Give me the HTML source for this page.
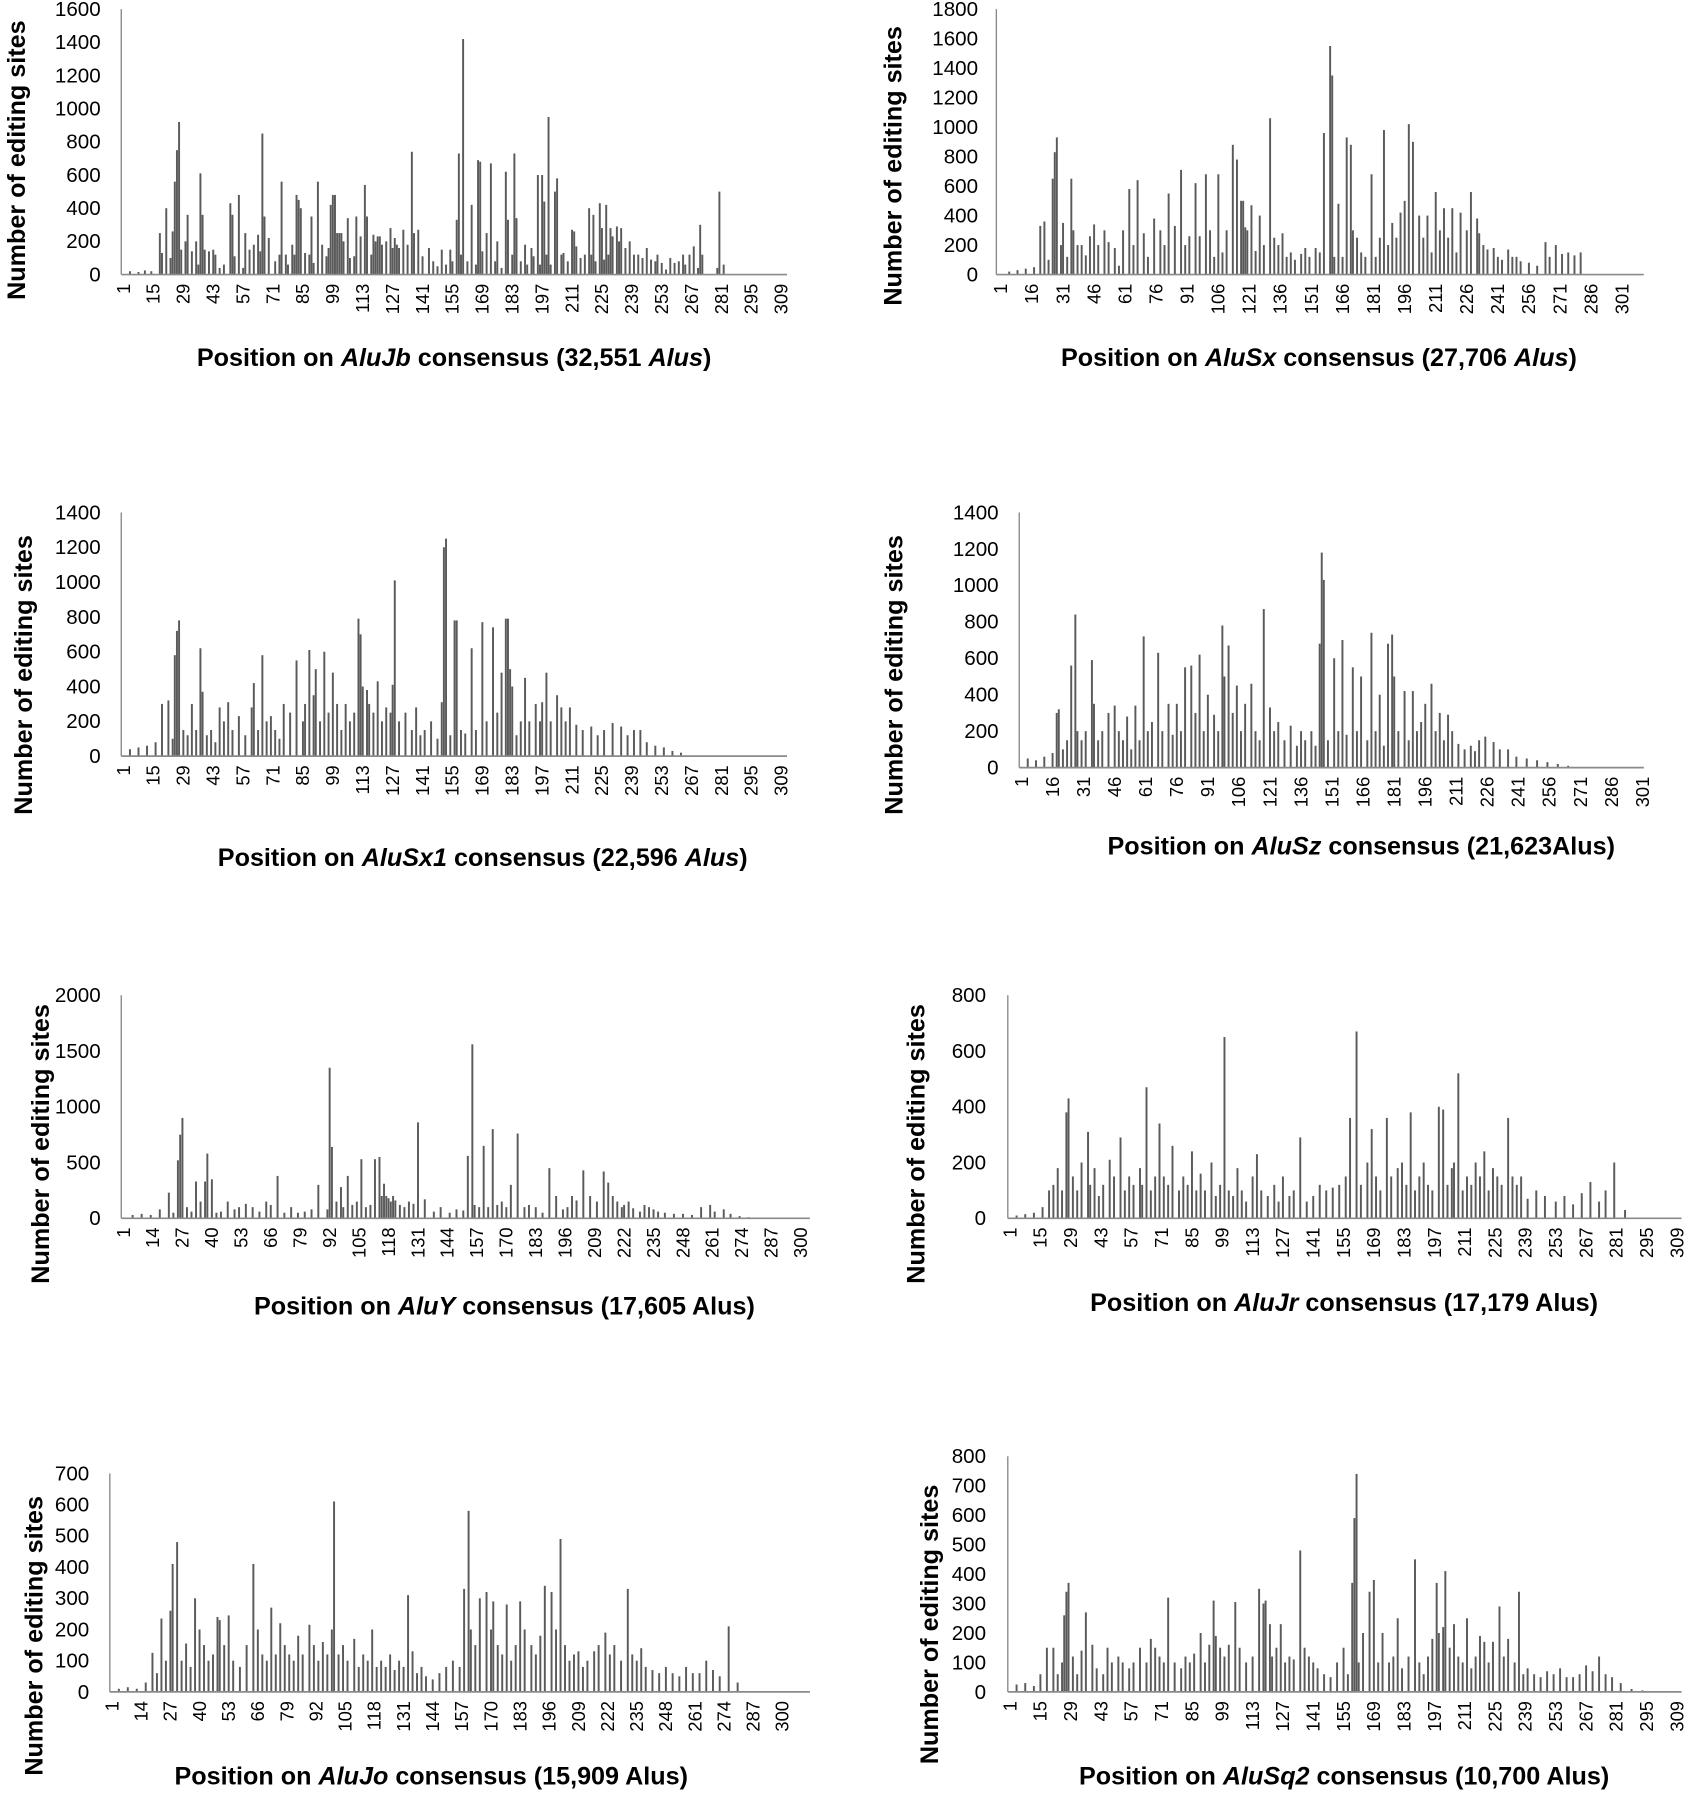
<!DOCTYPE html>
<html><head><meta charset="utf-8">
<style>
html,body{margin:0;padding:0;background:#fff;}
svg{display:block;}
text{font-family:"Liberation Sans",sans-serif;fill:#000;}
</style></head>
<body>
<svg id="fig" xmlns="http://www.w3.org/2000/svg" width="1693" height="1800" viewBox="0 0 1480 1573.5" preserveAspectRatio="none"></svg>
<script>
// ---- Data: positions and values for each panel ----
const jbPos = [4,8,11,14,18,19,21,23,24,25,26,27,28,30,31,33,35,36,37,38,39,41,43,44,46,48,51,52,53,55,57,58,60,62,64,65,66,67,69,72,74,75,77,78,80,81,82,83,84,86,88,89,90,92,94,96,97,98,99,100,101,102,103,104,106,107,109,110,112,114,115,117,118,119,120,121,122,124,126,127,128,129,130,132,134,136,137,139,141,144,146,148,150,152,154,155,157,158,159,160,162,164,166,167,168,169,171,173,175,176,178,180,181,183,184,185,187,189,190,192,193,195,196,197,198,199,200,201,203,204,206,207,209,211,212,213,215,217,219,220,221,222,224,225,226,227,228,229,230,232,233,234,236,238,240,242,244,246,248,250,251,253,255,257,259,261,263,264,266,268,270,271,272,279,280,282];
const jbVal = [20,15,25,20,250,130,400,100,260,560,750,920,150,200,360,140,200,60,610,360,150,140,150,120,40,60,430,360,110,480,40,250,150,180,240,140,850,350,220,80,120,560,120,60,180,120,480,450,400,130,120,350,70,560,180,110,160,420,480,480,250,250,250,200,340,100,110,350,230,540,350,120,240,200,230,230,180,200,280,160,220,180,160,270,180,740,250,270,110,160,80,50,150,60,150,80,330,730,120,1420,80,420,60,690,680,140,250,670,80,200,40,620,330,120,730,340,80,180,60,160,110,600,60,600,440,120,950,60,500,580,120,130,80,270,260,170,100,120,400,120,360,80,430,280,90,420,120,280,230,290,200,280,160,200,120,120,100,160,90,80,120,70,30,100,70,80,120,60,120,170,40,300,120,40,500,60,130];

const sxPos = [5,9,13,17,20,22,24,26,27,28,30,31,33,35,36,38,40,42,44,46,48,51,53,56,58,60,63,65,67,70,72,75,78,80,82,85,88,90,92,95,97,100,102,104,106,108,110,113,115,117,118,119,120,122,124,126,128,131,133,135,137,139,141,143,146,148,150,153,155,157,160,161,162,164,166,168,170,171,173,175,177,180,182,184,186,188,190,192,194,196,198,200,203,205,207,209,211,213,215,217,219,221,223,226,228,231,232,234,236,239,241,243,246,248,250,252,256,260,264,266,269,272,275,278,281];
const sxVal = [20,30,40,50,330,360,100,650,830,930,200,350,120,650,300,200,200,130,260,340,200,300,220,180,60,300,580,200,640,280,120,380,300,200,550,330,710,200,260,620,260,680,300,120,680,150,300,880,780,500,500,320,300,470,160,400,200,1060,250,200,280,120,150,100,140,180,120,180,150,960,1550,1350,120,480,120,930,880,300,250,150,120,680,120,250,980,200,350,250,420,500,1020,900,400,250,400,150,560,300,450,250,450,150,420,300,560,380,280,200,170,180,120,100,170,120,120,90,80,60,220,120,200,140,150,130,150];

const sx1Pos = [4,8,12,16,19,22,24,25,26,27,29,31,33,35,37,38,40,42,44,46,48,50,52,55,58,61,62,64,66,68,70,72,74,76,79,82,85,86,88,90,91,93,95,97,99,101,103,105,107,109,111,112,113,115,116,118,120,122,124,126,127,128,130,133,136,138,140,142,145,148,150,151,152,154,156,157,159,161,164,166,169,171,174,176,178,180,181,182,183,185,187,189,191,194,196,197,199,201,204,206,208,210,213,216,220,223,226,230,234,237,240,243,246,250,254,258,262];
const sx1Val = [40,50,60,80,300,320,100,580,720,780,150,120,300,150,620,370,120,150,80,280,200,310,150,230,120,280,420,150,580,200,230,150,100,300,250,550,200,300,610,350,500,200,600,250,480,300,150,300,200,250,790,700,400,380,300,250,430,200,280,250,410,1010,200,250,150,280,120,150,200,100,310,1200,1250,120,780,780,150,130,620,150,770,200,740,250,480,790,790,500,400,120,200,450,200,300,200,310,480,200,350,280,200,280,180,150,170,120,150,190,170,120,150,150,80,60,50,30,20];

const szPos = [4,8,12,16,18,19,21,23,25,27,28,30,32,35,36,38,40,43,46,48,50,52,54,56,58,60,62,64,67,69,72,74,76,78,80,83,85,87,89,91,94,96,98,99,101,103,105,107,109,112,114,116,118,121,123,125,128,131,134,136,138,141,143,145,146,147,149,152,154,156,158,161,163,165,168,170,172,174,176,178,180,181,183,186,188,190,192,194,196,199,201,203,205,207,209,212,215,218,220,222,225,229,232,236,240,245,250,255,260,265,270];
const szVal = [50,40,60,80,300,320,100,150,560,840,200,150,200,590,350,150,200,300,340,200,150,280,100,340,150,720,200,250,630,200,350,180,350,200,550,560,300,620,200,400,290,200,780,500,670,300,450,200,350,460,200,150,870,330,200,250,150,230,120,200,150,200,120,680,1180,1030,150,600,200,700,180,550,200,500,150,740,200,400,120,680,730,500,200,420,150,420,200,250,350,460,200,300,150,290,200,130,100,120,90,150,170,140,100,100,60,50,40,30,20,10];

const yPos = [5,9,13,17,21,23,25,26,27,29,31,33,35,37,38,40,42,44,47,50,52,55,58,61,64,66,69,72,75,78,81,84,87,91,92,93,95,97,98,100,102,104,106,108,110,112,114,115,116,117,118,119,120,121,123,125,127,129,131,134,138,141,145,148,151,153,155,156,158,160,162,164,166,168,170,172,175,178,180,183,186,189,192,195,197,199,201,204,207,210,213,215,217,219,221,222,224,226,229,231,233,235,237,240,244,248,252,256,260,262,266,269,273,277];
const yVal = [30,40,30,80,230,50,520,750,900,100,60,330,150,330,580,350,50,60,150,80,100,130,100,60,150,120,380,50,100,50,60,80,300,80,1350,640,150,280,100,380,120,150,530,100,120,530,550,200,310,200,180,150,200,160,120,100,150,130,860,170,60,100,50,80,70,560,1560,120,100,650,100,800,120,150,100,300,760,100,120,100,50,450,200,80,100,200,160,430,200,150,420,320,200,150,100,120,150,90,60,120,100,80,60,50,40,40,30,100,120,60,80,40,20,10];

const jrPos = [4,8,12,16,19,21,23,25,27,28,30,32,34,37,38,40,42,44,47,49,52,54,56,58,61,62,64,66,68,70,72,74,76,79,81,83,85,87,89,91,94,96,98,100,102,104,106,108,110,113,115,117,120,123,125,127,130,132,135,138,141,144,147,150,153,156,158,161,163,166,168,170,172,175,177,180,182,184,186,188,190,192,194,196,199,201,203,205,206,208,210,212,214,216,218,220,222,224,226,228,231,233,235,237,240,244,248,253,257,261,265,269,273,276,280,285];
const jrVal = [10,15,20,40,100,120,180,100,380,430,150,100,200,310,120,180,80,120,210,150,290,100,150,120,180,120,470,100,150,340,150,120,260,100,150,120,240,100,160,100,200,80,120,650,100,80,180,100,60,150,230,100,80,120,60,150,80,100,290,60,80,120,100,110,120,150,360,670,120,200,320,150,100,360,150,180,200,120,380,100,150,200,120,100,400,390,120,180,200,520,100,150,120,200,150,240,100,180,150,120,360,150,120,150,70,100,80,60,80,50,90,130,60,100,200,30];

const joPos = [4,8,12,16,19,21,23,25,27,28,30,32,34,36,38,40,42,44,46,48,49,51,53,55,58,61,64,66,68,70,72,74,76,78,80,82,84,86,89,91,93,95,97,99,100,102,104,106,109,111,113,115,117,119,121,123,125,127,129,131,133,135,137,139,141,144,147,150,153,156,158,160,161,163,165,168,170,171,173,175,177,179,181,183,185,188,190,192,194,197,199,201,203,205,207,209,211,213,216,218,221,223,225,228,231,233,235,237,239,242,245,248,251,254,257,260,263,266,269,272,276,280];
const joVal = [10,15,10,30,125,60,235,100,260,410,480,100,155,80,300,200,150,100,120,240,230,150,245,100,80,150,410,200,120,100,270,120,220,150,120,100,180,120,215,150,100,160,120,200,610,120,150,100,170,80,120,100,200,80,100,80,120,70,100,80,310,130,60,80,50,40,60,80,100,80,330,580,200,150,300,320,200,290,150,120,280,100,150,290,200,150,120,180,340,320,200,490,150,100,120,130,80,100,130,150,190,120,150,100,330,120,100,140,80,70,60,80,60,50,80,60,60,100,70,50,210,30];

const sq2Pos = [4,8,12,15,18,21,23,25,26,27,28,30,32,34,36,39,41,44,46,48,51,53,56,58,61,64,66,68,70,72,74,77,80,82,84,86,89,91,93,95,96,98,100,102,105,107,110,113,116,118,119,121,122,124,126,128,130,132,135,137,139,141,143,146,149,152,155,157,159,160,161,162,164,167,169,171,173,176,178,180,182,185,188,190,192,194,196,198,199,201,202,204,206,208,210,212,214,216,218,220,222,224,227,229,231,234,236,238,240,243,246,249,252,255,258,261,264,267,270,273,276,279,283,288,293];
const sq2Val = [25,30,20,60,150,150,60,100,260,340,370,120,60,140,270,160,80,60,150,100,120,100,80,100,150,100,180,150,120,100,320,100,80,120,100,130,200,100,160,310,190,150,120,160,305,150,100,120,350,300,310,230,120,150,230,100,120,110,480,150,120,100,80,60,50,100,150,60,370,590,740,100,200,340,380,100,200,100,120,250,80,120,450,100,60,120,180,370,200,220,410,150,230,120,100,250,80,120,190,170,100,170,290,120,180,100,340,60,80,60,50,70,60,80,50,50,60,90,70,120,60,50,30,10,5];

// ---- Panel configuration (layout only) ----
const panels = [
 {id:'alujb', pos:jbPos, val:jbVal, x0:106, top:8, base:240, right:688, first:108, step:1.867, ymax:1600, ydiv:200, tickStep:14, tickMax:309, ylx:88, ytx:14, yty:140, xtx:397, xty:320, name:'AluJb', tail:' consensus (32,551 ', tailIt:'Alus', tailEnd:')'},
 {id:'alusx', pos:sxPos, val:sxVal, x0:871, top:8, base:240, right:1437, first:875, step:1.81, ymax:1800, ydiv:200, tickStep:15, tickMax:301, ylx:855, ytx:780, yty:145, xtx:1153, xty:320, name:'AluSx', tail:' consensus (27,706 ', tailIt:'Alus', tailEnd:')'},
 {id:'alusx1', pos:sx1Pos, val:sx1Val, x0:106, top:448, base:661, right:688, first:108, step:1.867, ymax:1400, ydiv:200, tickStep:14, tickMax:309, ylx:88, ytx:20, yty:590, xtx:422, xty:757, name:'AluSx1', tail:' consensus (22,596 ', tailIt:'Alus', tailEnd:')'},
 {id:'alusz', pos:szPos, val:szVal, x0:891, top:448, base:671, right:1437, first:893, step:1.81, ymax:1400, ydiv:200, tickStep:15, tickMax:301, ylx:873, ytx:781, yty:590, xtx:1190, xty:747, name:'AluSz', tail:' consensus (21,623Alus)', tailIt:'', tailEnd:''},
 {id:'aluy', pos:yPos, val:yVal, x0:106, top:870, base:1065, right:708, first:108, step:1.98, ymax:2000, ydiv:500, tickStep:13, tickMax:300, ylx:88, ytx:35, yty:1000, xtx:441, xty:1149, name:'AluY', tail:' consensus (17,605 Alus)', tailIt:'', tailEnd:''},
 {id:'alujr', pos:jrPos, val:jrVal, x0:881, top:870, base:1065, right:1470, first:883, step:1.893, ymax:800, ydiv:200, tickStep:14, tickMax:309, ylx:862, ytx:800, yty:1000, xtx:1175, xty:1146, name:'AluJr', tail:' consensus (17,179 Alus)', tailIt:'', tailEnd:''},
 {id:'alujo', pos:joPos, val:joVal, x0:96, top:1288, base:1479, right:708, first:98, step:1.96, ymax:700, ydiv:100, tickStep:13, tickMax:300, ylx:78, ytx:29, yty:1430, xtx:377, xty:1560, name:'AluJo', tail:' consensus (15,909 Alus)', tailIt:'', tailEnd:''},
 {id:'alusq2', pos:sq2Pos, val:sq2Val, x0:881, top:1273, base:1479, right:1470, first:883, step:1.893, ymax:800, ydiv:100, tickStep:14, tickMax:309, ylx:862, ytx:812, yty:1420, xtx:1175, xty:1560, name:'AluSq2', tail:' consensus (10,700 Alus)', tailIt:'', tailEnd:''}
];

const NS = 'http://www.w3.org/2000/svg';
const svg = document.getElementById('fig');
function mk(tag, attrs, parent){
  const e = document.createElementNS(NS, tag);
  for (const k in attrs) e.setAttribute(k, attrs[k]);
  parent.appendChild(e);
  return e;
}

panels.forEach(p => {
  const g = mk('g', {}, svg);
  
  
  const yScale = v => p.base - v / p.ymax * (p.base - p.top);
  const xScale = pos => p.first + (pos - 1) * p.step;

  const bars = mk('g', {fill:'#5a5a5a'}, g);
  
  
  p.pos.forEach((pos, i) => {
    const v = p.val[i];
    const y = yScale(v);
    const r = mk('rect', {x: (xScale(pos) - 0.85).toFixed(2), y: y.toFixed(2), width: 1.7, height: (p.base - y).toFixed(2)}, bars);
    
    
  });

  const ya = mk('line', {x1:p.x0, y1:p.top, x2:p.x0, y2:p.base, stroke:'#8a8a8a', 'stroke-width':1.2}, g);
  
  
  const xa = mk('line', {x1:p.x0, y1:p.base, x2:p.right, y2:p.base, stroke:'#8a8a8a', 'stroke-width':1.5}, g);
  
  

  for (let v = 0; v <= p.ymax; v += p.ydiv) {
    const t = mk('text', {x:p.ylx, y:(yScale(v) + 6).toFixed(1), 'text-anchor':'end', 'font-size':18}, g);
    t.textContent = v;
    
    
  }
  for (let v = 1; v <= p.tickMax; v += p.tickStep) {
    const x = xScale(v) + 5.5;
    const yy = p.base + 8;
    const t = mk('text', {x:0, y:0, 'text-anchor':'end', 'font-size':16, transform:'translate(' + x.toFixed(1) + ',' + yy + ') rotate(-90)'}, g);
    t.textContent = v;
    
    
  }
  const yt = mk('text', {x:0, y:0, 'text-anchor':'middle', 'font-size':22, 'font-weight':'bold', transform:'translate(' + (p.ytx + 8) + ',' + p.yty + ') rotate(-90)'}, g);
  yt.textContent = 'Number of editing sites';
  
  
  const xt = mk('text', {x:p.xtx, y:p.xty, 'text-anchor':'middle', 'font-size':22, 'font-weight':'bold'}, g);
  
  
  const s1 = mk('tspan', {}, xt); s1.textContent = 'Position on ';
  const s2 = mk('tspan', {'font-style':'italic'}, xt); s2.textContent = p.name;
  const s3 = mk('tspan', {}, xt); s3.textContent = p.tail;
  if (p.tailIt) { const s4 = mk('tspan', {'font-style':'italic'}, xt); s4.textContent = p.tailIt; }
  if (p.tailEnd) { const s5 = mk('tspan', {}, xt); s5.textContent = p.tailEnd; }
});
</script>
</body></html>
